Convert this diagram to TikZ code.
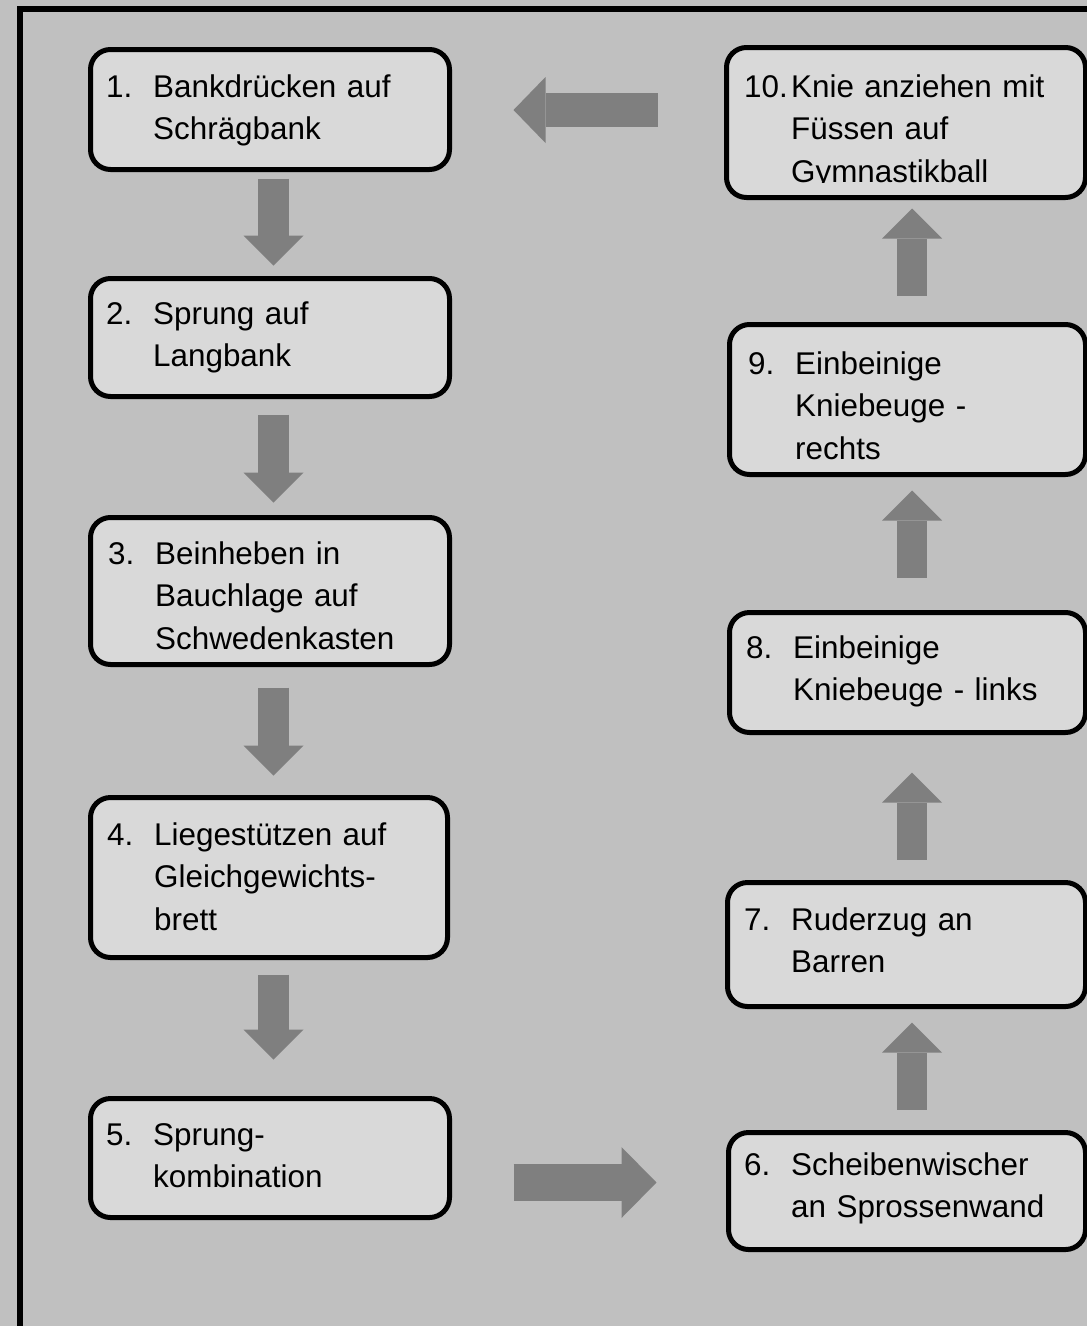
\documentclass[tikz,border=0pt]{standalone}
\usepackage{fontspec}
\setmainfont{Liberation Sans}
\usepackage{tikz}
\usetikzlibrary{arrows.meta}

\definecolor{bggray}{HTML}{C0C0C0}
\definecolor{boxgray}{HTML}{D9D9D9}
\definecolor{arrowgray}{HTML}{7F7F7F}

\newcommand{\nr}[1]{\strut\makebox[47pt][l]{#1}}
\newcommand{\ind}{\hspace*{47pt}}

\tikzset{
	stepbox/.style={draw=black, fill=boxgray, line width=5pt, rounded corners=20pt, inner sep=0pt},
	steptext/.style={anchor=north west, inner sep=0pt, text width=340pt, align=left, font=\fontsize{31.4}{42.5}\selectfont},
	blockarrow/.style={draw=arrowgray, line width=31pt, -{Triangle[length=30pt, width=60pt, line width=0pt]}},
	sidearrow/.style={draw=arrowgray, line width=#1},
}

\begin{document}
\begin{tikzpicture}[x=1pt, y=-1pt]
	% Background and frame
	\clip (0,0) rectangle (1087,1326);
	\fill[bggray] (0,0) rectangle (1087,1326);
	\draw[line width=6pt] (20,9) rectangle (1200,1400);
	
	% Boxes, left column
	\node[stepbox, minimum width=359pt, minimum height=120pt] (b1) at (270,109.5) {};
	\node[stepbox, minimum width=359pt, minimum height=118pt] (b2) at (270,337.5) {};
	\node[stepbox, minimum width=359pt, minimum height=147pt] (b3) at (270,591) {};
	\node[stepbox, minimum width=357pt, minimum height=160pt] (b4) at (269,877.5) {};
	\node[stepbox, minimum width=359pt, minimum height=119pt] (b5) at (270,1158) {};
	
	% Boxes, right column
	\node[stepbox, minimum width=357pt, minimum height=117pt] (b6) at (907,1191) {};
	\node[stepbox, minimum width=358pt, minimum height=124pt] (b7) at (906.5,944.5) {};
	\node[stepbox, minimum width=356pt, minimum height=120pt] (b8) at (907.5,672.5) {};
	\node[stepbox, minimum width=356pt, minimum height=150pt] (b9) at (907.5,399.5) {};
	\node[stepbox, minimum width=359pt, minimum height=150pt] (b10) at (906,122.5) {};
	
	% Texts
	\node[steptext] (t1) at (106,67.25) {\nr{1.}Bankdrücken auf\\\ind Schrägbank};
	\node[steptext] (t2) at (106,294.25) {\nr{2.}Sprung auf\\\ind Langbank};
	\node[steptext] (t3) at (108,534.25) {\nr{3.}Beinheben in\\\ind Bauchlage auf\\\ind Schwedenkasten};
	\node[steptext] (t4) at (107,815.25) {\nr{4.}Liegestützen auf\\\ind Gleichgewichts-\\\ind brett};
	\node[steptext] (t5) at (106,1115.25) {\nr{5.}Sprung-\\\ind kombination};
	\node[steptext] (t6) at (744,1145.25) {\nr{6.}Scheibenwischer\\\ind an Sprossenwand};
	\node[steptext] (t7) at (744,900.25) {\nr{7.}Ruderzug an\\\ind Barren};
	\node[steptext] (t8) at (746,628.25) {\nr{8.}Einbeinige\\\ind Kniebeuge - links};
	\node[steptext] (t9) at (748,344.25) {\nr{9.}Einbeinige\\\ind Kniebeuge -\\\ind rechts};
	\begin{scope}
		\clip (700,0) rectangle (1087,182);
		\node[steptext] (t10) at (744,67.25) {\nr{10.}Knie anziehen mit\\\ind Füssen auf\\\ind Gymnastikball};
	\end{scope}
	
	% Arrow lanes
	\coordinate (downcol) at (273.5,0);
	\coordinate (upcol) at (912,0);
	\coordinate (toprow) at (0,110);
	\coordinate (bottomrow) at (0,1182.5);
	
	% Arrows down
	\draw[blockarrow, shorten <=6.5pt, shorten >=10.5pt] (b1.south -| downcol) -- (b2.north -| downcol);
	\draw[blockarrow, shorten <=15.5pt, shorten >=12.5pt] (b2.south -| downcol) -- (b3.north -| downcol);
	\draw[blockarrow, shorten <=20.5pt, shorten >=19.5pt] (b3.south -| downcol) -- (b4.north -| downcol);
	\draw[blockarrow, shorten <=14.5pt, shorten >=36.5pt] (b4.south -| downcol) -- (b5.north -| downcol);
	
	% Arrows up
	\draw[blockarrow, line width=30pt, shorten <=20.5pt, shorten >=13.5pt] (b6.north -| upcol) -- (b7.south -| upcol);
	\draw[blockarrow, line width=30pt, shorten <=20.5pt, shorten >=37.5pt] (b7.north -| upcol) -- (b8.south -| upcol);
	\draw[blockarrow, line width=30pt, shorten <=32.5pt, shorten >=13.5pt] (b8.north -| upcol) -- (b9.south -| upcol);
	\draw[blockarrow, line width=30pt, shorten <=26.5pt, shorten >=8.5pt] (b9.north -| upcol) -- (b10.south -| upcol);
	
	% Arrows across
	\draw[sidearrow=37pt, -{Triangle[length=35pt, width=71pt, line width=0pt]}, shorten <=61.5pt, shorten >=69.5pt] (b5.east |- bottomrow) -- (b6.west |- bottomrow);
	\draw[sidearrow=34pt, -{Triangle[length=32pt, width=66pt, line width=0pt]}, shorten <=66.5pt, shorten >=61.5pt] (b10.west |- toprow) -- (b1.east |- toprow);
\end{tikzpicture}
\end{document}
